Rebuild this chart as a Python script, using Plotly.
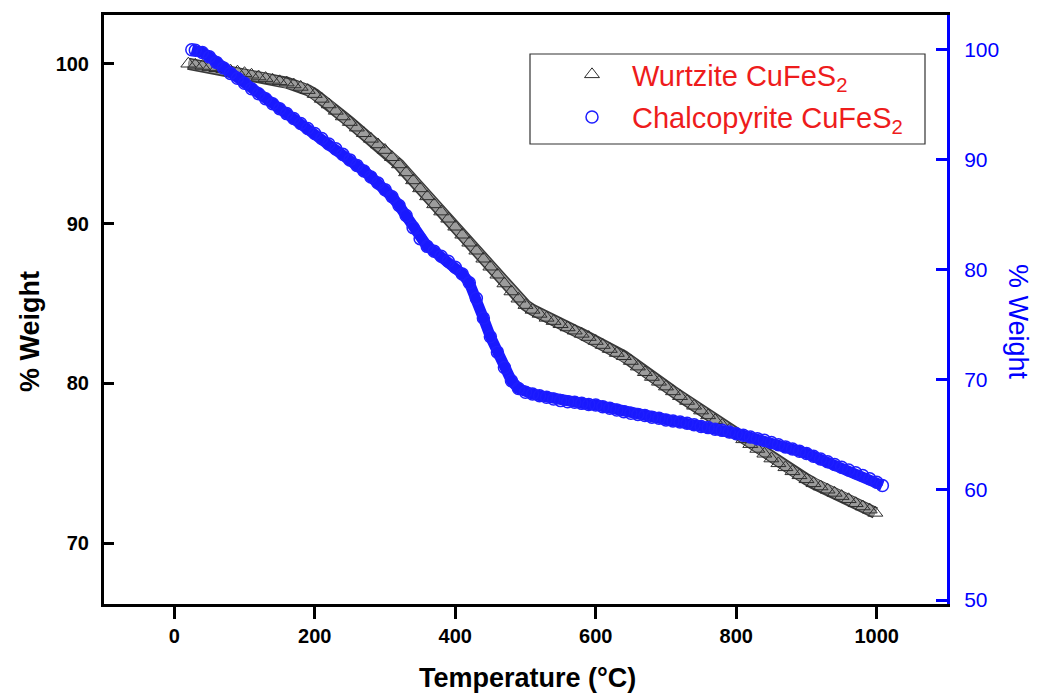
import plotly.graph_objects as go

# ---- data ----
temp_wurtzite = [20, 30, 40, 50, 60, 70, 80, 90, 100, 110, 120, 130, 140, 150, 160, 170, 180, 190,
                 200, 210, 220, 230, 240, 250, 260, 270, 280, 290, 300, 310, 320, 330, 340, 350,
                 360, 370, 380, 390, 400, 410, 420, 430, 440, 450, 460, 470, 480, 490, 500, 510,
                 520, 530, 540, 550, 560, 570, 580, 590, 600, 610, 620, 630, 640, 650, 660, 670,
                 680, 690, 700, 710, 720, 730, 740, 750, 760, 770, 780, 790, 800, 810, 820, 830,
                 840, 850, 860, 870, 880, 890, 900, 910, 920, 930, 940, 950, 960, 970, 980, 990, 998]
weight_wurtzite = [100.0, 99.93, 99.86, 99.79, 99.72, 99.65, 99.57, 99.5, 99.41, 99.31, 99.2, 99.1,
                   98.99, 98.9, 98.82, 98.7, 98.55, 98.35, 98.1, 97.8, 97.45, 97.05, 96.7, 96.35,
                   96.0, 95.65, 95.3, 94.95, 94.6, 94.15, 93.7, 93.2, 92.7, 92.2, 91.7, 91.2,
                   90.75, 90.3, 89.8, 89.3, 88.8, 88.3, 87.8, 87.3, 86.8, 86.25, 85.75, 85.3,
                   84.9, 84.6, 84.35, 84.1, 83.9, 83.7, 83.5, 83.3, 83.1, 82.9, 82.65, 82.4,
                   82.15, 81.9, 81.7, 81.4, 81.05, 80.7, 80.4, 80.1, 79.8, 79.5, 79.2, 78.9,
                   78.6, 78.3, 78.0, 77.7, 77.4, 77.1, 76.8, 76.5, 76.2, 75.9, 75.6, 75.3,
                   75.0, 74.75, 74.5, 74.25, 74.0, 73.75, 73.55, 73.35, 73.15, 72.95, 72.75,
                   72.5, 72.3, 72.1, 71.9]

temp_chalco = [25, 30, 40, 50, 60, 70, 80, 90, 100, 110, 120, 130, 140, 150, 160, 170, 180, 190,
               200, 210, 220, 230, 240, 250, 260, 270, 280, 290, 300, 310, 320, 330, 340, 350,
               360, 370, 380, 390, 400, 410, 420, 430, 440, 450, 460, 470, 480, 490, 500, 510,
               520, 530, 540, 550, 560, 570, 580, 590, 600, 610, 620, 630, 640, 650, 660, 670,
               680, 690, 700, 710, 720, 730, 740, 750, 760, 770, 780, 790, 800, 810, 820, 830,
               840, 850, 860, 870, 880, 890, 900, 910, 920, 930, 940, 950, 960, 970, 980, 990,
               1000, 1008]
weight_chalco = [99.95, 99.9, 99.7, 99.3, 98.8, 98.3, 97.8, 97.35, 96.9, 96.4, 95.95, 95.5, 95.05,
                 94.6, 94.15, 93.7, 93.25, 92.8, 92.35, 91.9, 91.4, 90.95, 90.45, 89.95, 89.45,
                 88.95, 88.4, 87.85, 87.25, 86.6, 85.8, 84.9, 83.8, 82.8, 82.1, 81.65, 81.2,
                 80.75, 80.2, 79.6, 78.8, 77.4, 75.6, 73.9, 72.5, 71.1, 69.9, 69.2, 68.85,
                 68.7, 68.55, 68.4, 68.25, 68.1, 68.0, 67.95, 67.85, 67.75, 67.7, 67.55, 67.4,
                 67.25, 67.1, 66.95, 66.85, 66.75, 66.6, 66.5, 66.35, 66.25, 66.15, 66.05,
                 65.9, 65.75, 65.65, 65.5, 65.4, 65.25, 65.1, 64.95, 64.8, 64.65, 64.5, 64.3,
                 64.1, 63.9, 63.7, 63.5, 63.3, 63.05, 62.8, 62.55, 62.3, 62.05, 61.8, 61.55,
                 61.3, 61.0, 60.7, 60.4]

x_ticks = [0, 200, 400, 600, 800, 1000]
y_left_ticks = [70, 80, 90, 100]
y_right_ticks = [50, 60, 70, 80, 90, 100]

name_w = "Wurtzite CuFeS<sub>2</sub>"
name_c = "Chalcopyrite CuFeS<sub>2</sub>"

GRAY_EDGE = "#2e2e2e"
BLUE = "#0000ff"
BLUE_MK = "#1e1eff"
RED = "#ee1c1c"
FONT = "Liberation Sans"

fig = go.Figure()

# band underlay (dark edges + grey core) and markers, wurtzite (left axis)
fig.add_trace(go.Scatter(x=temp_wurtzite, y=weight_wurtzite, mode="lines",
                         line=dict(color="#3a3a3a", width=12),
                         showlegend=False, hoverinfo="skip", yaxis="y"))
fig.add_trace(go.Scatter(x=temp_wurtzite, y=weight_wurtzite, mode="lines",
                         line=dict(color="#9c9c9c", width=9),
                         showlegend=False, hoverinfo="skip", yaxis="y"))
fig.add_trace(go.Scatter(x=temp_wurtzite, y=weight_wurtzite, mode="markers", name=name_w,
                         legendgroup="w",
                         marker=dict(symbol="triangle-up-open", size=13, color=GRAY_EDGE,
                                     line=dict(width=1, color=GRAY_EDGE)),
                         yaxis="y"))
# chalcopyrite (right axis)
fig.add_trace(go.Scatter(x=temp_chalco, y=weight_chalco, mode="lines",
                         line=dict(color="rgba(25,25,255,1)", width=11),
                         showlegend=False, hoverinfo="skip", yaxis="y2"))
fig.add_trace(go.Scatter(x=temp_chalco, y=weight_chalco, mode="markers", name=name_c,
                         legendgroup="c",
                         marker=dict(symbol="circle-open", size=12, color=BLUE_MK,
                                     line=dict(width=1.5, color=BLUE_MK)),
                         yaxis="y2"))

W, H = 1037, 694
L, R, T, B = 104, 947, 15, 604
pw, ph = R - L, B - T


def px(x):
    return (x - L) / pw


def py(y):
    return (B - y) / ph


fig.update_layout(
    width=W, height=H,
    margin=dict(l=L, r=W - R, t=T, b=H - B, pad=0),
    paper_bgcolor="white", plot_bgcolor="white",
    font=dict(family=FONT, color="black"),
    xaxis=dict(range=[-100, 1100], tickvals=x_ticks, ticks="outside", ticklen=12, tickwidth=3,
               tickcolor="black", showline=True, linecolor="black", linewidth=3, mirror=True,
               showgrid=False, zeroline=False,
               tickfont=dict(family=FONT, size=20, color="black", weight="bold")),
    yaxis=dict(range=[66.2, 103.05], tickvals=y_left_ticks, ticks="inside", ticklen=10,
               tickwidth=3, tickcolor="black", showline=True, linecolor="black", linewidth=3,
               showgrid=False, zeroline=False, ticklabelstandoff=8,
               tickfont=dict(family=FONT, size=20, color="black", weight="bold")),
    yaxis2=dict(range=[49.64, 103.1], tickvals=y_right_ticks, overlaying="y", side="right",
                ticks="inside", ticklen=11, tickwidth=3, tickcolor=BLUE, showline=True,
                linecolor=BLUE, linewidth=3, showgrid=False, zeroline=False,
                ticklabelstandoff=10,
                tickfont=dict(family=FONT, size=21, color=BLUE)),
    legend=dict(x=px(552), y=py(49), xanchor="left", yanchor="top",
                bgcolor="rgba(0,0,0,0)", borderwidth=0, itemwidth=70,
                tracegroupgap=2,
                font=dict(family=FONT, size=29, color=RED)),
    showlegend=True,
)

# legend frame
fig.add_shape(type="rect", xref="paper", yref="paper",
              x0=px(530), x1=px(925), y0=py(144), y1=py(54),
              line=dict(color="#333333", width=1.2), fillcolor="rgba(0,0,0,0)", layer="above")

# axis titles
fig.add_annotation(text="Temperature (°C)", xref="paper", yref="paper",
                   x=px(527), y=py(678), showarrow=False, xanchor="center", yanchor="middle",
                   font=dict(family=FONT, size=27, color="black", weight="bold"))
fig.add_annotation(text="% Weight", xref="paper", yref="paper",
                   x=px(30), y=py(332), showarrow=False, textangle=-90,
                   xanchor="center", yanchor="middle",
                   font=dict(family=FONT, size=27, color="black", weight="bold"))
fig.add_annotation(text="% Weight", xref="paper", yref="paper",
                   x=px(1018), y=py(322), showarrow=False, textangle=90,
                   xanchor="center", yanchor="middle",
                   font=dict(family=FONT, size=27, color=BLUE))

fig.write_html("out.html")
